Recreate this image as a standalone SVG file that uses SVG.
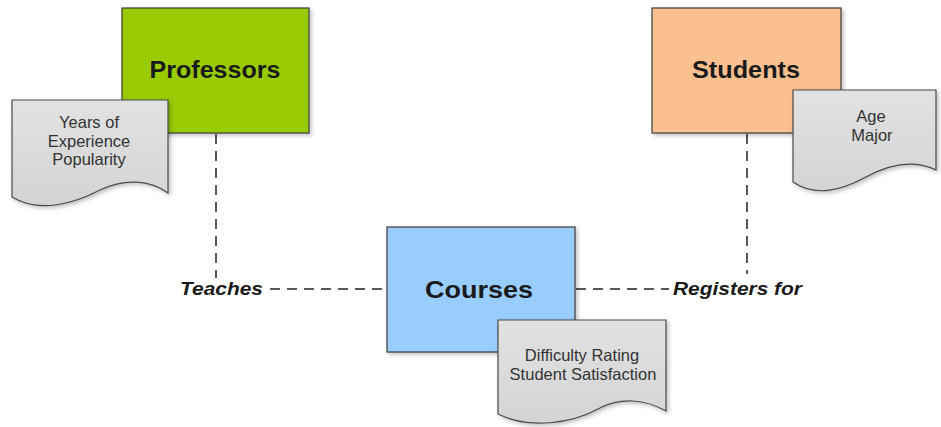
<svg xmlns="http://www.w3.org/2000/svg" width="941" height="427" viewBox="0 0 941 427">
<defs>
<filter id="sh" x="-10%" y="-10%" width="130%" height="130%">
<feDropShadow dx="2" dy="2" stdDeviation="2" flood-color="#000" flood-opacity="0.25"/>
</filter>
<linearGradient id="docg" x1="0" y1="0" x2="0" y2="1">
<stop offset="0" stop-color="#e2e2e2"/>
<stop offset="1" stop-color="#d4d4d4"/>
</linearGradient>
</defs>
<style>
.box{stroke:#3a3a3a;stroke-width:1.2;filter:url(#sh)}
.doc{fill:url(#docg);stroke:#4a4a4a;stroke-width:1.2;filter:url(#sh)}
.title{font-family:"Liberation Sans",Arial,sans-serif;font-weight:bold;font-size:24px;fill:#1a1a1a;text-anchor:middle}
.attr{font-family:"Liberation Sans",Arial,sans-serif;font-size:16.5px;fill:#333;text-anchor:middle}
.rel{font-family:"Liberation Sans",Arial,sans-serif;font-weight:bold;font-style:italic;font-size:19px;fill:#1a1a1a}
.conn{stroke:#222;stroke-width:1.5;stroke-dasharray:10 7;fill:none}
</style>
<g id="connectors">
<path class="conn" d="M216,134 V278"/>
<path class="conn" d="M270,289 H387"/>
<path class="conn" d="M747,134 V274"/>
<path class="conn" d="M576,289 H669"/>
<text class="rel" x="180" y="295" textLength="83" lengthAdjust="spacingAndGlyphs">Teaches</text>
<text class="rel" x="673" y="295" textLength="129" lengthAdjust="spacingAndGlyphs">Registers for</text>
</g>
<g id="professors">
<rect class="box" x="122" y="8" width="187" height="125" fill="#99cc00"/>
<text class="title" x="215" y="78" textLength="131" lengthAdjust="spacingAndGlyphs">Professors</text>
</g>
<g id="professors-attrs">
<path class="doc" d="M12,100 H168 V193 C150,180 125,178 100,190 C75,203 40,214 12,197 Z"/>
<text class="attr" x="89" y="128">Years of</text>
<text class="attr" x="89" y="147">Experience</text>
<text class="attr" x="89" y="165">Popularity</text>
</g>
<g id="students">
<rect class="box" x="652" y="8" width="189" height="125" fill="#fac090"/>
<text class="title" x="746" y="78" textLength="108" lengthAdjust="spacingAndGlyphs">Students</text>
</g>
<g id="students-attrs">
<path class="doc" d="M793,90 H936 V170 C915,160 890,164 866,177 C840,191 815,197 793,182 Z"/>
<text class="attr" x="871" y="122">Age</text>
<text class="attr" x="872" y="141">Major</text>
</g>
<g id="courses">
<rect class="box" x="387" y="227" width="188" height="125" fill="#99ccff"/>
<text class="title" x="479" y="298" textLength="108" lengthAdjust="spacingAndGlyphs">Courses</text>
</g>
<g id="courses-attrs">
<path class="doc" d="M498,320 H666 V411 C645,399 620,397 598,409 C572,423 530,430 498,414 Z"/>
<text class="attr" x="582" y="361">Difficulty Rating</text>
<text class="attr" x="583" y="380">Student Satisfaction</text>
</g>
</svg>
